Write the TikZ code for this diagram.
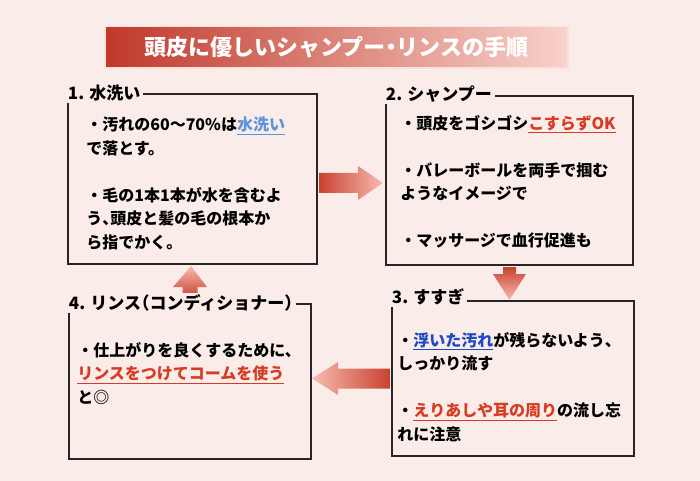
\documentclass[tikz,border=0pt]{standalone}
\usepackage{fontspec}
\setmainfont{Noto Sans CJK JP}
\usetikzlibrary{calc}
\definecolor{bgpink}{HTML}{FAEDE9}
\definecolor{bannerdeep}{HTML}{C0392B}
\definecolor{bannerpale}{HTML}{F8D2CB}
\definecolor{arrdeep}{HTML}{C9412F}
\definecolor{arrpale}{HTML}{F6BCB1}
\definecolor{redtxt}{HTML}{D93A22}
\definecolor{bluelight}{HTML}{5B95DB}
\definecolor{bluedeep}{HTML}{1E48C8}
\definecolor{framegray}{HTML}{262626}
\newcommand{\hilite}[2]{\textcolor{#1}{\underline{#2}}}
\newcommand{\halfw}[1]{{\addfontfeature{RawFeature=+halt}#1}}
\tikzset{
	frameA/.style 2 args={
		draw=framegray, line width=1.5pt, anchor=north west, inner sep=0pt,
		minimum width=#1*0.75pt, minimum height=#2*0.75pt
	},
	headA/.style={
		fill=bgpink, anchor=west, inner xsep=2pt, inner ysep=1.5pt,
		font={\bfseries\fontsize{12.75}{14}\selectfont}
	},
	bodyA/.style={
		anchor=north west, align=left, inner sep=0pt,
		font={\bfseries\fontsize{12}{17.6}\selectfont}
	},
}
\begin{document}
\begin{tikzpicture}[x=0.75pt, y=-0.75pt]
\fill[bgpink] (0,0) rectangle (700,481);
\useasboundingbox (0,0) rectangle (700,481);
% banner
\fill[bannerpale!45!bgpink] (104,26) rectangle (569,69);
\node[shade, left color=bannerdeep, right color=bannerpale, text=white,
	minimum width=461*0.75pt, minimum height=39*0.75pt, inner sep=0pt,
	font={\bfseries\fontsize{16.5}{18}\selectfont}] (banner) at (336.5,47.5)
	{頭皮に優しいシャンプー\halfw{・}リンスの手順};
% frames
\node[frameA={249}{170}] (b1) at (67,93) {};
\node[frameA={247}{169}] (b2) at (385,95) {};
\node[frameA={242}{155}] (b3) at (391,300) {};
\node[frameA={242}{155}] (b4) at (68,303) {};
% arrows
\shade[left color=arrdeep, right color=arrpale]
	($(b1.east)+(1,-6)$) -- ($(b2.west)+(-27,-7.5)$) -- ($(b2.west)+(-27,-14.5)$)
	-- ($(b2.west)+(-2,2.5)$) -- ($(b2.west)+(-27,19.5)$) -- ($(b2.west)+(-27,12.5)$)
	-- ($(b1.east)+(1,14)$) -- cycle;
\shade[top color=arrdeep, bottom color=arrpale]
	($(b2.south)+(-6.5,1)$) -- ($(b2.south)+(-6.5,8)$) -- ($(b2.south)+(-16.5,8)$)
	-- ($(b2.south)+(0,34)$) -- ($(b2.south)+(16.5,8)$) -- ($(b2.south)+(6.5,8)$)
	-- ($(b2.south)+(6.5,1)$) -- cycle;
\shade[left color=arrpale, right color=arrdeep]
	($(b3.west)+(-1,-10)$) -- ($(b3.west)+(-53,-10)$) -- ($(b3.west)+(-53,-16.5)$)
	-- ($(b3.west)+(-79,0)$) -- ($(b3.west)+(-53,16.5)$) -- ($(b3.west)+(-53,10)$)
	-- ($(b3.west)+(-1,10)$) -- cycle;
\shade[top color=arrpale, bottom color=arrdeep]
	($(b4.north)+(-7.5,-5)$) -- ($(b4.north)+(-7.5,-16)$) -- ($(b4.north)+(-17,-16)$)
	-- ($(b1.south)+(-1.5,1)$) -- ($(b4.north)+(17,-16)$) -- ($(b4.north)+(7.5,-16)$)
	-- ($(b4.north)+(7.5,-5)$) -- cycle;
% headings
\node[headA] (h1) at ($(b1.north west)+(-2,0)$) {1. 水洗い};
\node[headA] (h2) at ($(b2.north west)+(-2,-1)$) {2. シャンプー};
\node[headA] (h3) at ($(b3.north west)+(-2,-3)$) {3. すすぎ};
\node[headA] (h4) at ($(b4.north west)+(-2,0)$) {4. リンス\halfw{（}コンディショナー\halfw{）}};
% texts
\node[bodyA] (t1) at ($(b1.north west)+(19,24)$)
	{・汚れの60～70\%は\hilite{bluelight}{水洗い}\\で落とす。\\[17.6pt]
	・毛の1本1本が水を含むよ\\う\halfw{、}頭皮と髪の毛の根本か\\ら指でかく。};
\node[bodyA] (t2) at ($(b2.north west)+(15,20)$)
	{・頭皮をゴシゴシ\hilite{redtxt}{こすらずOK}\\[17.6pt]
	・バレーボールを両手で掴む\\ようなイメージで\\[17.6pt]
	・マッサージで血行促進も};
\node[bodyA] (t3) at ($(b3.north west)+(6,32)$)
	{・\hilite{bluedeep}{浮いた汚れ}が残らないよう、\\しっかり流す\\[17.6pt]
	・\hilite{redtxt}{えりあしや耳の周り}の流し忘\\れに注意};
\node[bodyA] (t4) at ($(b4.north west)+(9,39)$)
	{・仕上がりを良くするために、\\\hilite{redtxt}{リンスをつけてコームを使う}\\と◎};
\end{tikzpicture}
\end{document}
